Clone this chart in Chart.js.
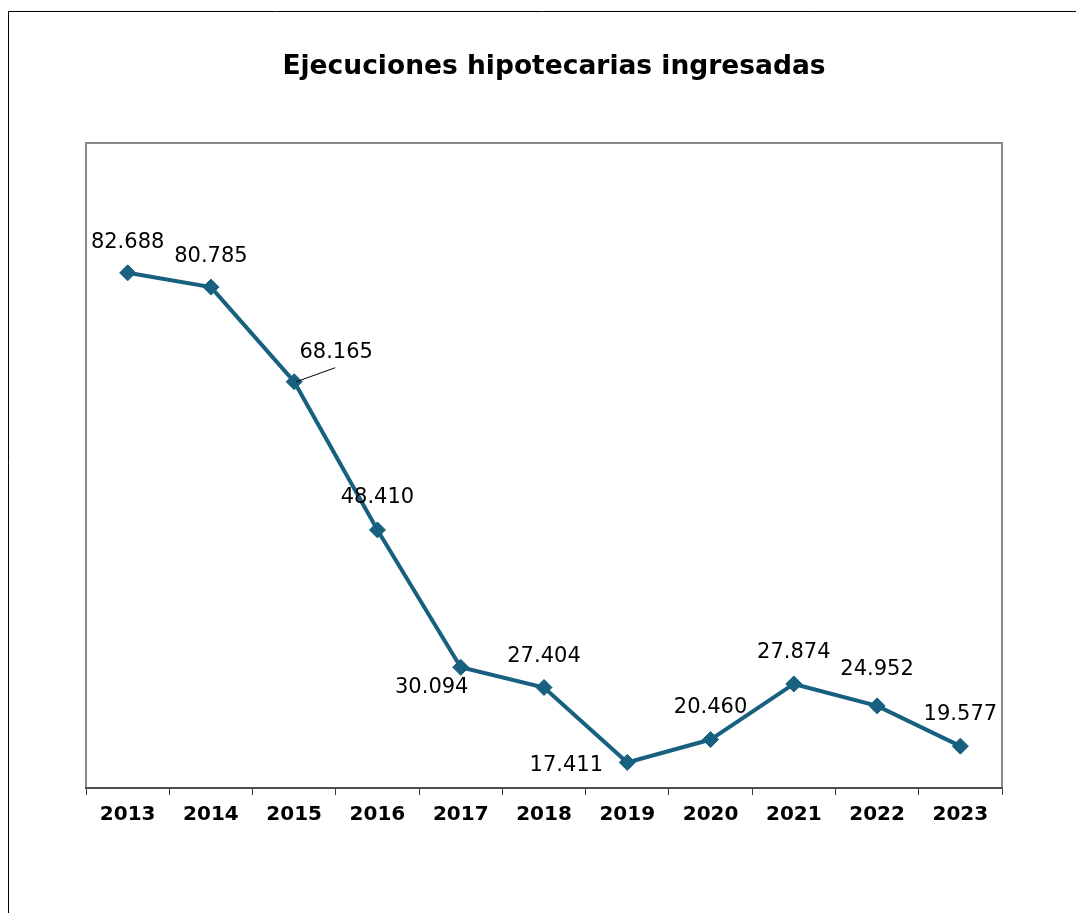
<!DOCTYPE html>
<html>
<head>
<meta charset="utf-8">
<script src="https://cdn.jsdelivr.net/npm/chart.js@4/dist/chart.umd.min.js"></script>
<style>
  html, body { margin: 0; padding: 0; background: #fff; }
  #wrap { width: 1078px; height: 913px; position: relative; }
</style>
</head>
<body>
<div id="wrap"><canvas id="c" width="1078" height="913"></canvas></div>
<script>
const chartTitle = 'Ejecuciones hipotecarias ingresadas';
const years = ['2013','2014','2015','2016','2017','2018','2019','2020','2021','2022','2023'];
const ejecuciones = [82688, 80785, 68165, 48410, 30094, 27404, 17411, 20460, 27874, 24952, 19577];
const valueLabels = ['82.688','80.785','68.165','48.410','30.094','27.404','17.411','20.460','27.874','24.952','19.577'];

// label placement relative to each point (styling, not data)
const labelPlacement = [
  {dx: 0, dy: -30}, {dx: 0, dy: -31}, {dx: 42, dy: -29, leader: true}, {dx: 0, dy: -32},
  {dx: -29, dy: 20}, {dx: 0, dy: -31}, {dx: -61, dy: 3}, {dx: 0, dy: -32},
  {dx: 0, dy: -31}, {dx: 0, dy: -36}, {dx: 0, dy: -32}
];

const LINE = '#17607f';

const framePlugin = {
  id: 'frame',
  beforeDraw(chart) {
    const ctx = chart.ctx;
    ctx.save();
    ctx.fillStyle = '#fff';
    ctx.fillRect(0, 0, chart.width, chart.height);
    ctx.strokeStyle = '#000';
    ctx.lineWidth = 1;
    ctx.beginPath();
    ctx.moveTo(8.5, 913);
    ctx.lineTo(8.5, 11.5);
    ctx.lineTo(1076, 11.5);
    ctx.stroke();
    // title
    ctx.fillStyle = '#000';
    ctx.font = 'bold 26.5px "DejaVu Sans"';
    ctx.textAlign = 'center';
    ctx.textBaseline = 'middle';
    ctx.fillText(chartTitle, 554, 67);
    // plot area border (left, top, right)
    const a = chart.chartArea;
    ctx.strokeStyle = '#8a8a8a';
    ctx.lineWidth = 2;
    ctx.beginPath();
    ctx.moveTo(a.left, a.bottom);
    ctx.lineTo(a.left, a.top);
    ctx.lineTo(a.right, a.top);
    ctx.lineTo(a.right, a.bottom);
    ctx.stroke();
    ctx.restore();
  },
  afterDatasetsDraw(chart) {
    const ctx = chart.ctx;
    const meta = chart.getDatasetMeta(0);
    ctx.save();
    ctx.font = '21px "DejaVu Sans"';
    ctx.fillStyle = '#000';
    ctx.textAlign = 'center';
    ctx.textBaseline = 'middle';
    meta.data.forEach((pt, i) => {
      const p = labelPlacement[i];
      const x = pt.x + p.dx, y = pt.y + p.dy;
      if (p.leader) {
        ctx.strokeStyle = '#000';
        ctx.lineWidth = 1;
        ctx.beginPath();
        ctx.moveTo(pt.x + 2, pt.y);
        ctx.lineTo(x - 1, y + 15);
        ctx.stroke();
      }
      ctx.fillText(valueLabels[i], x, y);
    });
    ctx.restore();
  }
};

new Chart(document.getElementById('c'), {
  type: 'line',
  data: {
    labels: years,
    datasets: [{
      data: ejecuciones,
      borderColor: LINE,
      backgroundColor: LINE,
      borderWidth: 4,
      pointStyle: 'rectRot',
      pointRadius: 8,
      pointBorderWidth: 1,
      pointBackgroundColor: LINE,
      pointBorderColor: LINE,
      tension: 0
    }]
  },
  options: {
    responsive: false,
    animation: false,
    devicePixelRatio: 1,
    layout: { padding: { top: 143, left: 86, right: 76, bottom: 0 } },
    plugins: { legend: { display: false }, title: { display: false }, tooltip: { enabled: false } },
    scales: {
      y: { display: false, min: 14000, max: 100000 },
      x: {
        offset: true,
        afterFit(scale) { scale.height = 125; },
        border: { display: true, color: '#505050', width: 2 },
        grid: { display: true, drawOnChartArea: false, drawTicks: true, tickLength: 7, offset: true, color: '#404040', lineWidth: 1 },
        ticks: { color: '#000', font: { family: 'DejaVu Sans', size: 20, weight: 'bold' }, padding: 8, maxRotation: 0, autoSkip: false }
      }
    }
  },
  plugins: [framePlugin]
});
</script>
</body>
</html>
